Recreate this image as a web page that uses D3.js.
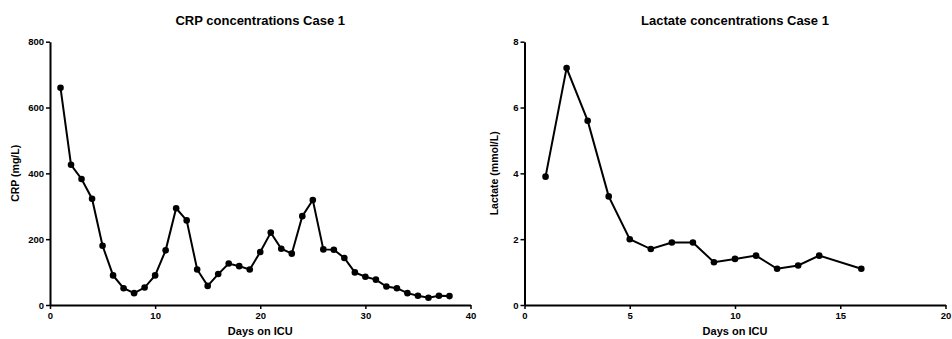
<!DOCTYPE html>
<html>
<head>
<meta charset="utf-8">
<script src="https://cdn.jsdelivr.net/npm/d3@7"></script>
<style>
  body { margin: 0; background: #fff; }
  svg text { font-family: "Liberation Sans", Arial, sans-serif; font-weight: bold; fill: #000; }
</style>
</head>
<body>
<svg width="952" height="339"></svg>
<script>
// CRP, days 1..38
const crpDays = d3.range(1, 39);
const crpValues = [660, 426, 383, 323, 180, 90, 51, 36, 53, 90,
    166, 294, 257, 108, 58, 94, 126, 118, 108, 161,
    220, 171, 156, 270, 319, 169, 168, 143, 99, 86,
    77, 56, 51, 36, 28, 22, 28, 27];
const crpXTicks = [0, 10, 20, 30, 40];
const crpYTicks = [0, 200, 400, 600, 800];

// Lactate, no value on day 15
const lacDays = [1, 2, 3, 4, 5, 6, 7, 8, 9, 10, 11, 12, 13, 14, 16];
const lacValues = [3.9, 7.2, 5.6, 3.3, 2.0, 1.7, 1.9, 1.9, 1.3, 1.4, 1.5, 1.1, 1.2, 1.5, 1.1];
const lacXTicks = [0, 5, 10, 15, 20];
const lacYTicks = [0, 2, 4, 6, 8];

const svg = d3.select('svg');

function panel(opts) {
    const x = d3.scaleLinear().domain(opts.xDomain).range([opts.left, opts.right]);
    const y = d3.scaleLinear().domain(opts.yDomain).range([305, 41.7]);
    const g = svg.append('g');

    const xAxis = g.append('g')
        .attr('transform', 'translate(0,305)')
        .call(d3.axisBottom(x).tickValues(opts.xTicks).tickSize(4).tickPadding(3).tickSizeOuter(0));
    const yAxis = g.append('g')
        .attr('transform', 'translate(' + opts.left + ',0)')
        .call(d3.axisLeft(y).tickValues(opts.yTicks).tickSize(4).tickPadding(2).tickSizeOuter(0));

    [xAxis, yAxis].forEach(a => {
        a.select('.domain').attr('stroke', '#000').attr('stroke-width', 2);
        a.selectAll('.tick line').attr('stroke', '#000').attr('stroke-width', 1.5);
        a.selectAll('.tick text')
            .style('font-family', '"Liberation Sans", Arial, sans-serif')
            .style('font-weight', 'bold')
            .attr('font-size', 9.5)
            .attr('fill', '#000');
    });

    const pts = opts.days.map((d, i) => [d, opts.values[i]]);

    g.append('path')
        .datum(pts)
        .attr('fill', 'none')
        .attr('stroke', '#000')
        .attr('stroke-width', 2)
        .attr('d', d3.line().x(d => x(d[0])).y(d => y(d[1])));

    g.selectAll('circle')
        .data(pts)
        .join('circle')
        .attr('cx', d => x(d[0]))
        .attr('cy', d => y(d[1]))
        .attr('r', 3.3)
        .attr('fill', '#000');

    g.append('text')
        .attr('x', (opts.left + opts.right) / 2)
        .attr('y', 25)
        .attr('text-anchor', 'middle')
        .attr('font-size', 13)
        .text(opts.title);

    g.append('text')
        .attr('x', (opts.left + opts.right) / 2)
        .attr('y', 335)
        .attr('text-anchor', 'middle')
        .attr('font-size', 11)
        .text('Days on ICU');

    g.append('text')
        .attr('transform', 'translate(' + (opts.left - opts.labelGap) + ',' + (305 + 41.7) / 2 + ')rotate(-90)')
        .attr('text-anchor', 'middle')
        .attr('font-size', 10.5)
        .text(opts.yLabel);
}

panel({
    left: 50, right: 470.5,
    xDomain: [0, 40], yDomain: [0, 800],
    xTicks: crpXTicks, yTicks: crpYTicks,
    days: crpDays, values: crpValues,
    title: 'CRP concentrations Case 1',
    yLabel: 'CRP (mg/L)', labelGap: 31
});

panel({
    left: 524.5, right: 945.5,
    xDomain: [0, 20], yDomain: [0, 8],
    xTicks: lacXTicks, yTicks: lacYTicks,
    days: lacDays, values: lacValues,
    title: 'Lactate concentrations Case 1',
    yLabel: 'Lactate (mmol/L)', labelGap: 27
});
</script>
</body>
</html>
